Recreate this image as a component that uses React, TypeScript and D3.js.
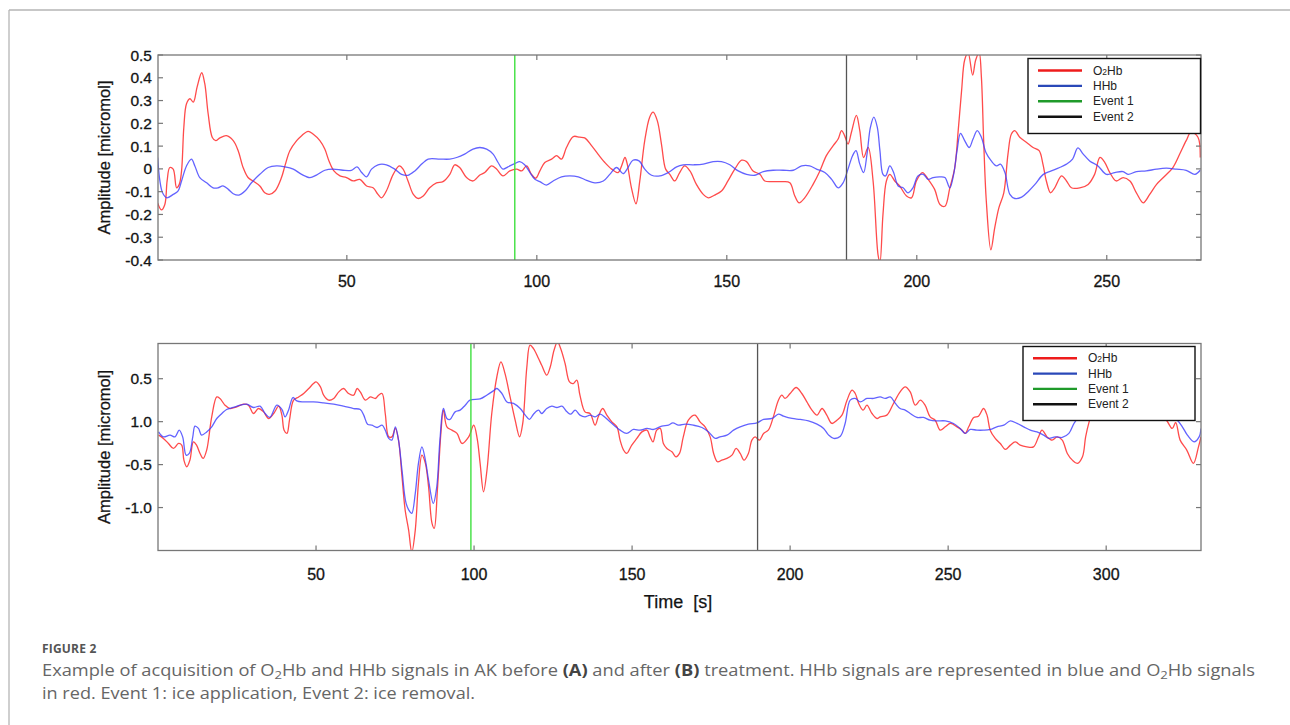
import React from "react";
import * as d3 from "d3";

// ---------- DATA ----------
// Panel A (before treatment): [time s, amplitude micromol]
const o2HbA: [number, number][] = [[0.2,-0.15],[1.2,-0.18],[2.1,-0.156],[2.7,-0.053],[3.4,0.006],[4.3,-0.001],[5.2,-0.083],[5.9,-0.068],[6.5,-0.009],[7.1,0.183],[7.8,0.286],[8.7,0.308],[9.6,0.293],[10.6,0.36],[11.8,0.422],[12.6,0.375],[13.5,0.242],[14.6,0.138],[15.5,0.124],[16.6,0.136],[18.3,0.146],[20.1,0.124],[21.4,0.08],[22.7,0.006],[24,-0.038],[25.3,-0.053],[27.1,-0.075],[28.4,-0.105],[29.6,-0.112],[31.1,-0.097],[32.8,-0.038],[33.7,0.013],[35,0.08],[36.8,0.124],[38.1,0.146],[39.8,0.165],[41.1,0.153],[42.9,0.124],[44.2,0.087],[45.3,0.035],[46.6,-0.009],[48.2,-0.031],[49.9,-0.038],[51.7,-0.053],[53.4,-0.046],[55.2,-0.075],[56.9,-0.083],[58.2,-0.112],[59.1,-0.127],[60.4,-0.097],[62.2,-0.024],[63.8,0.013],[64.8,-0.001],[66.1,-0.053],[67.5,-0.112],[68.8,-0.13],[70.1,-0.119],[71.8,-0.083],[73.6,-0.061],[75.3,-0.056],[77.1,-0.024],[78.4,0.018],[79.7,0.006],[81.5,-0.038],[83.2,-0.053],[85,-0.027],[86.3,-0.016],[88.1,0.013],[89.4,-0.001],[91.1,-0.031],[92.9,-0.009],[94.7,-0.001],[96,-0.009],[97.3,0.013],[98.6,-0.024],[99.7,-0.041],[100.8,-0.009],[102.1,0.028],[103.9,0.043],[105.2,0.058],[106.5,0.043],[107.8,0.094],[109.6,0.142],[111.3,0.139],[112.6,0.136],[114.4,0.102],[116.1,0.065],[117.9,0.028],[119.7,-0.001],[121.4,-0.016],[122.3,0.013],[123.2,0.05],[123.8,0.021],[124.9,-0.083],[126.1,-0.153],[127.1,-0.053],[128.4,0.124],[129.7,0.227],[130.6,0.249],[131.7,0.212],[132.8,0.109],[133.9,-0.001],[135,-0.024],[136.3,-0.053],[137.6,-0.016],[138.9,0.013],[140.3,-0.009],[142,-0.068],[143.8,-0.112],[145.1,-0.127],[146.8,-0.115],[148.6,-0.097],[150.3,-0.053],[152.1,-0.001],[153.9,0.038],[155.2,0.032],[156.9,-0.009],[158.7,-0.024],[160,-0.053],[162.2,-0.056],[164.8,-0.056],[166.6,-0.061],[167.9,-0.119],[169,-0.149],[170.5,-0.127],[172.7,-0.068],[174.5,-0.009],[176.2,0.058],[178,0.102],[179.3,0.131],[180.2,0.168],[181,0.146],[181.9,0.109],[182.8,0.161],[184.1,0.235],[185,0.168],[186,0.05],[187.2,0.094],[188.5,-0.053],[189.8,-0.377],[190.3,-0.41],[191.1,-0.2],[192,-0.053],[192.9,-0.024],[194.2,-0.053],[195.5,-0.075],[197.3,-0.119],[198.6,-0.127],[199.9,-0.053],[201.5,-0.016],[203,-0.046],[204.7,-0.09],[206.1,-0.156],[207.4,-0.164],[208.7,-0.083],[210,0.006],[210.9,0.168],[211.8,0.345],[212.6,0.478],[213.5,0.51],[214.7,0.412],[215.5,0.478],[216.4,0.51],[217,0.404],[217.6,0.124],[218.3,-0.142],[219.5,-0.355],[220.5,-0.26],[221.6,-0.171],[222.9,-0.105],[224,0.065],[224.9,0.153],[225.8,0.168],[227.1,0.139],[228.9,0.116],[230.6,0.094],[232.2,0.08],[233.2,0.021],[234.1,-0.053],[235.2,-0.105],[236.3,-0.083],[238.1,-0.031],[239.4,-0.053],[240.7,-0.083],[242.9,-0.083],[245.1,-0.068],[246.8,-0.024],[248.2,0.05],[249.5,0.028],[250.8,-0.016],[252.5,-0.053],[254.3,-0.038],[256.1,-0.053],[257.8,-0.105],[259.6,-0.149],[261.3,-0.112],[263.1,-0.068],[265.3,-0.031],[267.4,0.006],[269.2,0.065],[270.9,0.124],[272.2,0.161],[274,0.139],[274.6,0.05]];

const hHbA: [number, number][] = [[0.2,0.05],[0.8,-0.053],[1.5,-0.105],[2.6,-0.127],[4.3,-0.112],[5.6,-0.097],[6.5,-0.053],[7.8,0.013],[9.1,0.043],[10,0.013],[11.3,-0.038],[13.1,-0.061],[14.8,-0.083],[16.1,-0.083],[17.4,-0.075],[18.8,-0.09],[20.1,-0.109],[21.6,-0.115],[23.2,-0.097],[24.9,-0.061],[27.1,-0.024],[29.3,0.006],[31.5,0.013],[33.7,0.009],[35.9,-0.001],[38.1,-0.024],[40.3,-0.038],[42,-0.027],[44.2,-0.006],[46.4,-0.001],[49,-0.006],[51.2,-0.006],[52.7,0.009],[53.9,-0.016],[55.2,-0.035],[56.5,-0.001],[58.2,0.018],[60.4,0.018],[62.6,-0.001],[64.4,-0.024],[66.1,-0.028],[67.9,-0.009],[69.7,0.021],[71.4,0.043],[74.5,0.043],[77.1,0.043],[78.9,0.05],[81,0.065],[83.2,0.087],[85,0.094],[86.8,0.087],[88.5,0.065],[89.8,0.028],[91.1,-0.001],[92.4,0.009],[94.2,0.023],[95.5,0.032],[96.8,0.018],[98.2,-0.016],[99.5,-0.046],[100.8,-0.056],[102.5,-0.071],[104.3,-0.053],[106.5,-0.035],[108.7,-0.031],[110.9,-0.035],[113.1,-0.05],[115.3,-0.061],[117.5,-0.053],[119.2,-0.024],[121,0.006],[122.7,-0.021],[124,0.006],[125.3,0.038],[126.9,0.035],[128.4,-0.001],[130.2,-0.028],[132.4,-0.031],[134.6,-0.016],[136.8,0.009],[138.5,0.018],[141.2,0.018],[143.8,0.021],[146.4,0.032],[148.6,0.032],[150.8,0.018],[153,-0.009],[155.2,-0.024],[157.4,-0.028],[159.6,-0.012],[162.2,-0.006],[164.8,-0.006],[167.5,-0.006],[169.7,0.013],[171.8,0.013],[173.6,-0.001],[175.8,-0.016],[177.6,-0.046],[179.3,-0.083],[180.6,-0.061],[181.9,-0.001],[183.1,0.058],[184,0.08],[185,0.021],[186,-0.016],[186.9,0.065],[187.8,0.183],[188.7,0.227],[189.6,0.183],[190.3,0.08],[191.1,-0.024],[191.8,-0.031],[192.9,0.013],[193.9,-0.016],[195.1,-0.075],[196.4,-0.083],[197.7,-0.105],[199,-0.083],[200.3,-0.031],[201.7,-0.024],[203,-0.046],[204.3,-0.038],[206.1,-0.035],[207.4,-0.038],[208.7,-0.083],[209.7,-0.024],[210.6,0.08],[211.5,0.156],[212.6,0.124],[213.8,0.094],[214.8,0.131],[215.9,0.168],[217,0.139],[218.2,0.072],[219.6,0.035],[221,0.013],[222,0.021],[223.2,-0.016],[224.5,-0.112],[225.8,-0.13],[227.6,-0.124],[229.3,-0.1],[231.1,-0.068],[233.3,-0.024],[235.4,-0.009],[237.6,0.006],[239.4,0.021],[241,0.043],[242.4,0.092],[243.8,0.065],[245.5,0.035],[247.7,0.013],[249.9,-0.024],[252.1,-0.016],[254.3,-0.012],[255.6,-0.024],[257.8,-0.012],[260.4,-0.009],[263.1,-0.001],[265.7,0.003],[268.3,-0.001],[270.9,-0.006],[273.2,-0.024],[274.6,-0.006]];

// Panel B (after treatment)
const o2HbB: [number, number][] = [[0.2,-0.157],[1.7,-0.195],[3.3,-0.254],[4.9,-0.312],[6.5,-0.254],[7.5,-0.273],[8.2,-0.448],[9.1,-0.525],[10.1,-0.448],[11.2,-0.235],[12.2,-0.273],[13.3,-0.37],[14.3,-0.428],[15.4,-0.331],[17,0.056],[18.6,0.288],[19.6,0.27],[21.2,0.192],[22.8,0.153],[24.9,0.172],[27,0.203],[28.6,0.192],[30.2,0.095],[31.8,0.153],[33.4,0.114],[35,0.037],[36.6,0.095],[38.2,0.18],[39.2,0.076],[39.9,-0.099],[40.8,-0.137],[41.6,0.017],[42.9,0.25],[44.5,0.288],[46.1,0.328],[47.7,0.386],[49.2,0.444],[50,0.463],[51.4,0.405],[52.4,0.308],[54,0.25],[55.6,0.27],[57.2,0.347],[58.7,0.386],[60.3,0.328],[61.9,0.308],[63,0.386],[64,0.347],[65.6,0.25],[67.2,0.288],[68.8,0.27],[69.8,0.308],[70.9,0.328],[71.9,0.095],[73,-0.177],[74,-0.177],[75.1,-0.079],[76.1,-0.215],[77.2,-0.642],[78.2,-1.029],[79.3,-1.262],[80.3,-1.52],[81.4,-1.262],[82.4,-0.719],[83.5,-0.39],[84.6,-0.486],[85.6,-0.758],[86.7,-1.184],[87.4,-1.242],[88.4,-0.797],[89.5,-0.137],[90.3,0.134],[91.4,-0.06],[93,-0.099],[94.6,-0.137],[96.2,-0.254],[98.3,-0.177],[99.9,-0.041],[101,-0.2],[101.9,-0.48],[103,-0.816],[104.1,-0.56],[105.6,0.095],[107.2,0.52],[108.5,0.695],[109.8,0.56],[111.4,0.288],[113,0.017],[114.4,-0.177],[115.4,-0.021],[116.7,0.637],[117.7,0.89],[118.8,0.851],[120.4,0.735],[121.4,0.657],[123,0.541],[124.1,0.637],[125.3,0.831],[126.4,0.93],[127.4,0.851],[128.8,0.677],[130.2,0.463],[131.4,0.444],[132.5,0.483],[133.5,0.308],[135.1,0.114],[136.7,0.095],[138.3,-0.041],[139.3,0.056],[140.7,0.153],[142,0.076],[143.6,-0.002],[145.2,-0.06],[146.2,-0.215],[147.3,-0.331],[148.3,-0.37],[149.9,-0.273],[151.5,-0.195],[153.1,-0.119],[154.7,-0.099],[155.7,-0.177],[156.6,-0.235],[157.8,-0.099],[158.9,-0.079],[159.9,-0.254],[161,-0.312],[162.6,-0.351],[163.9,-0.409],[165,-0.37],[166.2,-0.177],[167.8,0.017],[169.9,0.076],[171.5,-0.002],[173.1,-0.06],[174.7,-0.177],[175.8,-0.37],[177,-0.467],[178.4,-0.448],[180,-0.428],[181.6,-0.39],[182.9,-0.312],[184.2,-0.37],[185.4,-0.448],[186.8,-0.37],[187.9,-0.215],[188.9,-0.177],[190.3,-0.215],[191.6,-0.137],[193.1,-0.099],[194.7,0.056],[196.3,0.25],[197.4,0.308],[198.4,0.27],[200,0.328],[201.9,0.398],[203.7,0.328],[205.3,0.23],[206.9,0.134],[208.5,0.076],[210.1,0.153],[211.6,0.076],[213.2,-0.021],[214.8,0.017],[216.4,0.076],[218,0.25],[219.6,0.366],[220.6,0.328],[221.7,0.212],[223.1,0.134],[224.3,0.192],[225.9,0.095],[227.5,0.037],[228.5,0.056],[230.6,0.076],[232.7,0.212],[234.8,0.347],[236.4,0.405],[238,0.347],[239.6,0.192],[241.2,0.25],[242.7,0.192],[244.3,0.056],[245.9,0.017],[247.5,-0.099],[249.1,-0.06],[250.7,-0.021],[252.8,-0.06],[254.4,-0.099],[255.4,-0.137],[256.5,-0.06],[258.1,0.049],[259.6,0.064],[261.2,0.153],[262.3,0.076],[263.3,-0.099],[264.9,-0.195],[266.5,-0.254],[268.1,-0.323],[269.7,-0.273],[271.2,-0.235],[272.8,-0.273],[274.9,-0.293],[277,-0.293],[278.6,-0.177],[279.7,-0.099],[281.3,-0.177],[282.9,-0.215],[284.5,-0.177],[286.1,-0.215],[287.7,-0.37],[289.3,-0.448],[290.9,-0.486],[292.5,-0.409],[293.5,-0.177],[294.6,-0.002],[296,0.15],[300,0.3],[305,0.35],[310,0.25],[315,0.15],[319,0.02],[320.9,-0.079],[322,-0.01],[323.4,-0.215],[325.5,-0.331],[327.6,-0.486],[329.2,-0.293],[330,-0.177]];

const hHbB: [number, number][] = [[0.2,-0.119],[1.7,-0.177],[3.8,-0.157],[5.4,-0.177],[6.7,-0.099],[7.8,-0.177],[8.9,-0.39],[9.9,-0.37],[11,-0.177],[11.7,-0.052],[12.8,-0.079],[13.8,-0.157],[15.4,-0.119],[17,-0.06],[18.6,0.037],[20.2,0.095],[21.7,0.142],[23.8,0.165],[26,0.192],[28.1,0.203],[30.2,0.165],[32.3,0.18],[33.9,0.095],[35.4,0.049],[37.6,0.192],[39.2,0.142],[40.2,0.056],[41.3,0.134],[42.7,0.281],[43.9,0.242],[46,0.23],[49.2,0.23],[52.4,0.219],[55.6,0.203],[58.7,0.18],[61.9,0.153],[64,0.142],[65.1,0.076],[66.3,-0.029],[67.7,-0.041],[69.3,-0.068],[70.9,-0.041],[71.9,-0.099],[73,-0.195],[74,-0.215],[75.1,-0.06],[76.1,-0.215],[77.2,-0.564],[78.5,-0.951],[79.7,-1.049],[80.3,-1.067],[81.4,-0.835],[82.4,-0.486],[83.5,-0.293],[84.6,-0.448],[85.6,-0.68],[87.1,-0.951],[88.2,-0.758],[89.2,-0.215],[90.3,0.153],[91.4,0.037],[92.4,0.026],[94,0.114],[95.6,0.134],[97.2,0.192],[98.7,0.25],[101.9,0.264],[104,0.308],[106.1,0.358],[107.2,0.386],[108.8,0.328],[110.4,0.23],[112.5,0.212],[114.6,0.153],[116.2,0.076],[117.5,0.026],[118.8,0.087],[120.4,0.134],[121.4,0.095],[123,0.153],[124.6,0.18],[126.2,0.165],[127.8,0.18],[129.4,0.114],[130.6,0.087],[132,0.134],[133.5,0.076],[135.1,0.056],[136.7,0.076],[138.3,0.056],[139.9,0.087],[141.5,0.049],[143,-0.002],[144.6,-0.052],[146.2,-0.099],[148.3,-0.137],[150.4,-0.091],[152.5,-0.099],[154.7,-0.079],[156.8,-0.091],[159.4,-0.052],[161.5,-0.041],[162.9,-0.014],[164.7,-0.041],[166.8,-0.029],[169.4,-0.041],[172.1,-0.068],[174.2,-0.119],[176.3,-0.195],[177.8,-0.177],[180,-0.157],[182.1,-0.099],[184.2,-0.06],[186.8,-0.029],[189.5,-0.014],[191.6,0.026],[194.3,0.037],[196.3,0.087],[197.9,0.064],[200.6,0.037],[203.2,0.026],[205.8,0.009],[208.5,-0.029],[210.6,-0.079],[212.2,-0.157],[213.8,-0.195],[215.9,-0.169],[217.4,-0.021],[219,0.25],[220.6,0.27],[222.2,0.23],[224.3,0.27],[226.4,0.27],[228.5,0.288],[230.1,0.27],[231.7,0.288],[233.3,0.212],[234.8,0.153],[236.4,0.134],[238,0.095],[240.1,0.049],[242.2,0.049],[244.3,0.017],[246.5,0.009],[249.1,0.009],[251.7,-0.021],[253.8,-0.079],[255.4,-0.137],[257,-0.091],[259.1,-0.099],[261.2,-0.099],[263.3,-0.091],[265.4,-0.06],[267.6,-0.041],[269.7,0.009],[271.8,-0.021],[273.9,-0.06],[276,-0.099],[278.1,-0.119],[280.2,-0.157],[281.8,-0.195],[283.9,-0.177],[286.1,-0.184],[288.2,-0.137],[289.8,-0.021],[290.9,0.037],[293,0.15],[297,0.3],[302,0.35],[308,0.3],[313,0.25],[318,0.15],[321,0.05],[322.5,0.017],[324.1,-0.06],[325.7,-0.157],[327.8,-0.235],[329.4,-0.177],[330,-0.079]];

const eventsA = [94.2, 181.5];
const eventsB = [99.0, 189.7];

const xTicksA = [50, 100, 150, 200, 250];
const yTicksA = [0.5, 0.4, 0.3, 0.2, 0.1, 0, -0.1, -0.2, -0.3, -0.4];
const yTickLabelsA = ["0.5", "0.4", "0.3", "0.2", "0.1", "0", "-0.1", "-0.2", "-0.3", "-0.4"];
const xTicksB = [50, 100, 150, 200, 250, 300];
const yTicksB = [0.5, 0, -0.5, -1.0];
const yTickLabelsB = ["0.5", "1.0", "-0.5", "-1.0"];

const legendItems = ["O2Hb", "HHb", "Event 1", "Event 2"];
const legendColors = ["#ee1c1c", "#2a48b8", "#1f9a2a", "#111111"];

const RED = "#ff2b2b";
const BLUE = "#3c3cff";
const GREEN = "#3fe03f";
const EV2 = "#555555";
const FONT = "'Liberation Sans', Arial, sans-serif";
const INK = "#141414";

type PanelProps = {
  id: string;
  o2: [number, number][];
  hh: [number, number][];
  xDomain: [number, number];
  yDomain: [number, number];
  top: number;
  bottom: number;
  xTicks: number[];
  yTicks: number[];
  yLabels: string[];
  events: number[];
  legend: { x: number; y: number; w: number; h: number; row0: number; dy: number; lx0: number; lx1: number; tx: number };
  xLabelY: number;
};

const LEFT = 158;
const RIGHT = 1201;

function Panel(p: PanelProps) {
  const x = d3.scaleLinear().domain(p.xDomain).range([LEFT, RIGHT]);
  const y = d3.scaleLinear().domain(p.yDomain).range([p.bottom, p.top]);
  const line = d3
    .line<[number, number]>()
    .x((d) => x(d[0]))
    .y((d) => y(d[1]))
    .curve(d3.curveCatmullRom.alpha(0.5));
  const tickLen = 5;
  const axisColor = "#777";
  const midY = (p.top + p.bottom) / 2;
  const L = p.legend;
  return (
    <g>
      <defs>
        <clipPath id={p.id}>
          <rect x={LEFT} y={p.top} width={RIGHT - LEFT} height={p.bottom - p.top} />
        </clipPath>
      </defs>
      <g clipPath={`url(#${p.id})`}>
        <path d={line(p.o2) || ""} fill="none" stroke={RED} strokeWidth={1.3} strokeOpacity={0.85} />
        <path d={line(p.hh) || ""} fill="none" stroke={BLUE} strokeWidth={1.3} strokeOpacity={0.8} />
      </g>
      <line x1={x(p.events[0])} x2={x(p.events[0])} y1={p.top} y2={p.bottom} stroke={GREEN} strokeWidth={1.4} />
      <line x1={x(p.events[1])} x2={x(p.events[1])} y1={p.top} y2={p.bottom} stroke={EV2} strokeWidth={1.3} />
      {/* frame */}
      <rect x={LEFT} y={p.top} width={RIGHT - LEFT} height={p.bottom - p.top} fill="none" stroke={axisColor} strokeWidth={1.3} />
      {/* x ticks */}
      {p.xTicks.map((t) => (
        <g key={"x" + t}>
          <line x1={x(t)} x2={x(t)} y1={p.bottom} y2={p.bottom - tickLen} stroke={axisColor} strokeWidth={1.2} />
          <line x1={x(t)} x2={x(t)} y1={p.top} y2={p.top + tickLen} stroke={axisColor} strokeWidth={1.2} />
          <text x={x(t)} y={p.xLabelY} textAnchor="middle" fontFamily={FONT} fontSize={16} fill={INK} stroke={INK} strokeWidth={0.3}>
            {t}
          </text>
        </g>
      ))}
      {/* y ticks */}
      {p.yTicks.map((t, i) => (
        <g key={"y" + t}>
          <line x1={LEFT} x2={LEFT + tickLen} y1={y(t)} y2={y(t)} stroke={axisColor} strokeWidth={1.2} />
          <line x1={RIGHT} x2={RIGHT - tickLen} y1={y(t)} y2={y(t)} stroke={axisColor} strokeWidth={1.2} />
          <text x={LEFT - 6} y={y(t) + 5.5} textAnchor="end" fontFamily={FONT} fontSize={15.5} fill={INK} stroke={INK} strokeWidth={0.3}>
            {p.yLabels[i]}
          </text>
        </g>
      ))}
      <text
        transform={`translate(110,${midY}) rotate(-90)`}
        textAnchor="middle"
        fontFamily={FONT}
        fontSize={16.5}
        fill={INK}
        stroke={INK}
        strokeWidth={0.25}
      >
        Amplitude [micromol]
      </text>
      {/* legend */}
      <rect x={L.x} y={L.y} width={L.w} height={L.h} fill="#fff" stroke="#111" strokeWidth={1.4} />
      {legendItems.map((name, i) => {
        const ry = L.row0 + i * L.dy;
        return (
          <g key={name}>
            <line x1={L.lx0} x2={L.lx1} y1={ry} y2={ry} stroke={legendColors[i]} strokeWidth={2.4} />
            <text x={L.tx} y={ry + 4} fontFamily={FONT} fontSize={12} fill="#222">
              {name === "O2Hb" ? (
                <>
                  O<tspan fontSize={8.5}>2</tspan>Hb
                </>
              ) : (
                name
              )}
            </text>
          </g>
        );
      })}
    </g>
  );
}

export default function App() {
  const capFont = "'Open Sans', 'Noto Sans', sans-serif";
  return (
    <div style={{ position: "absolute", left: 0, top: 0, width: 1290, height: 725, background: "#fff" }}>
      <svg width={1290} height={725} viewBox="0 0 1290 725">
        <rect x={0} y={0} width={1290} height={725} fill="#fff" />
        {/* page frame */}
        <line x1={9} x2={1290} y1={10} y2={10} stroke="#b5b5b5" strokeWidth={1.3} />
        <line x1={9} x2={9} y1={10} y2={725} stroke="#b5b5b5" strokeWidth={1.3} />

        <Panel
          id="clipA"
          o2={o2HbA}
          hh={hHbA}
          xDomain={[0.3, 274.8]}
          yDomain={[-0.4, 0.5]}
          top={55}
          bottom={260}
          xTicks={xTicksA}
          yTicks={yTicksA}
          yLabels={yTickLabelsA}
          events={eventsA}
          legend={{ x: 1028, y: 58.5, w: 172.5, h: 75, row0: 70.5, dy: 15.4, lx0: 1038, lx1: 1082, tx: 1093 }}
          xLabelY={287}
        />
        <Panel
          id="clipB"
          o2={o2HbB}
          hh={hHbB}
          xDomain={[0, 330]}
          yDomain={[-1.5, 0.91]}
          top={343.5}
          bottom={550.5}
          xTicks={xTicksB}
          yTicks={yTicksB}
          yLabels={yTickLabelsB}
          events={eventsB}
          legend={{ x: 1023, y: 346.5, w: 172, h: 74, row0: 358.3, dy: 15.3, lx0: 1033, lx1: 1077, tx: 1088 }}
          xLabelY={580}
        />
        <text x={678} y={608} textAnchor="middle" fontFamily={FONT} fontSize={18} fill={INK} stroke={INK} strokeWidth={0.25} style={{ whiteSpace: "pre" }}>
          {"Time  [s]"}
        </text>

        {/* caption */}
        <text x={42} y={653} fontFamily={capFont} fontSize={12} fontWeight={700} fill="#555" letterSpacing={0.2}>
          FIGURE 2
        </text>
        <text x={42} y={676} fontFamily={capFont} fontSize={16} fill="#666" textLength={1213} lengthAdjust="spacingAndGlyphs">
          Example of acquisition of O<tspan fontSize={11.5} dy={3}>2</tspan>
          <tspan dy={-3}>Hb and HHb signals in AK before </tspan>
          <tspan fontWeight={700} fill="#444">(A)</tspan> and after <tspan fontWeight={700} fill="#444">(B)</tspan> treatment. HHb
          signals are represented in blue and O<tspan fontSize={11.5} dy={3}>2</tspan>
          <tspan dy={-3}>Hb signals</tspan>
        </text>
        <text x={42} y={699} fontFamily={capFont} fontSize={16} fill="#666" textLength={433} lengthAdjust="spacingAndGlyphs">
          in red. Event 1: ice application, Event 2: ice removal.
        </text>
      </svg>
    </div>
  );
}
